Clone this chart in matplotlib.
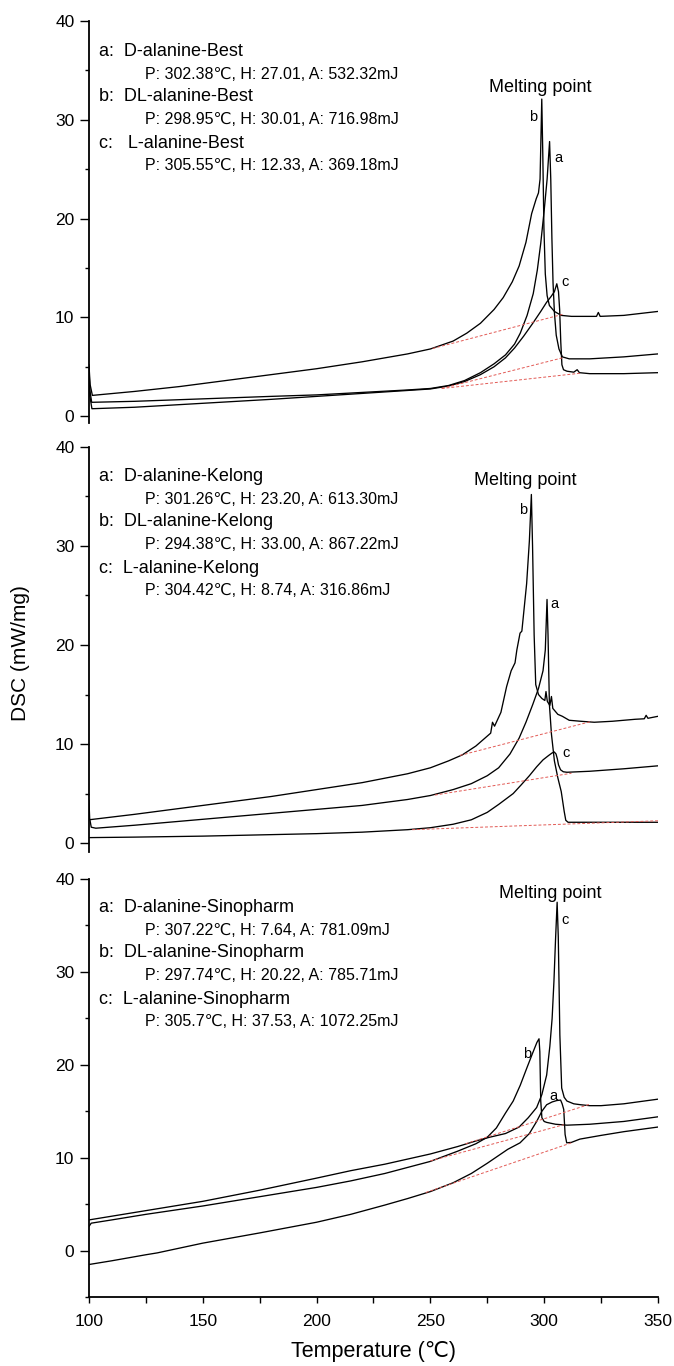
import matplotlib.pyplot as plt
from matplotlib.ticker import MultipleLocator

plt.rcParams['font.family'] = ['Liberation Sans', 'DejaVu Sans']

# ---- Best ----
best_names = ['a:  D-alanine-Best', 'b:  DL-alanine-Best', 'c:   L-alanine-Best']
best_p = ['302.38', '298.95', '305.55']
best_h = ['27.01', '30.01', '12.33']
best_area = ['532.32', '716.98', '369.18']

best_a_t = [100, 100.4, 101.2, 120, 150, 180, 200, 220, 240, 250, 258, 265, 272, 278, 283, 287, 289.5,
            292.5, 295.2, 297, 298.5, 300, 301.3, 302.38, 302.9, 303.4, 303.9, 304.5, 305.3, 306.5, 308,
            311, 320, 335, 350]
best_a_dsc = [5.0, 2.6, 1.4, 1.5, 1.75, 2.0, 2.15, 2.4, 2.65, 2.8, 3.1, 3.6, 4.4, 5.3, 6.2, 7.3, 8.4,
              10.2, 12.4, 14.8, 17.5, 20.8, 24.0, 27.8, 24.0, 18.0, 13.5, 10.5, 8.2, 6.8, 6.0,
              5.8, 5.8, 6.0, 6.3]
best_b_t = [100, 100.5, 101.5, 120, 140, 160, 180, 200, 220, 240, 250, 260, 266, 272, 278, 282, 286,
            289, 292, 294.5, 296.5, 297.5, 298.2, 298.95, 299.4, 299.9, 300.5, 301.3, 302.3, 304.5,
            307.5, 312, 318, 323, 323.8, 324.6, 335, 350]
best_b_dsc = [5.2, 3.2, 2.1, 2.5, 3.0, 3.6, 4.2, 4.8, 5.5, 6.3, 6.8, 7.6, 8.4, 9.4, 10.8, 12.0, 13.6,
              15.2, 17.6, 20.5, 22.0, 22.6, 24.0, 32.1, 26.5, 19.0, 14.4, 12.2, 11.2, 10.6,
              10.2, 10.1, 10.1, 10.1, 10.5, 10.1, 10.2, 10.6]
best_c_t = [100, 100.4, 101.3, 120, 150, 180, 200, 220, 240, 250, 258, 265, 272, 278, 283, 287, 291,
            295, 298.5, 301, 303, 304.5, 305.55, 306.3, 306.8, 307.3, 307.8, 308.5, 310, 313, 314.5,
            315.5, 320, 335, 350]
best_c_dsc = [5.0, 2.0, 0.75, 0.9, 1.3, 1.7, 2.0, 2.3, 2.6, 2.75, 3.05, 3.5, 4.2, 5.0, 5.9, 6.9, 8.1,
              9.4, 10.6, 11.5, 12.1, 12.6, 13.4, 12.6, 10.8, 7.5, 5.2, 4.7, 4.55, 4.45, 4.7,
              4.4, 4.3, 4.3, 4.4]
best_base_t = [[255, 308], [251, 308], [255, 316]]
best_base_dsc = [[2.8, 5.9], [6.85, 10.3], [2.8, 4.35]]

# ---- Kelong ----
kelong_names = ['a:  D-alanine-Kelong', 'b:  DL-alanine-Kelong', 'c:  L-alanine-Kelong']
kelong_p = ['301.26', '294.38', '304.42']
kelong_h = ['23.20', '33.00', '8.74']
kelong_area = ['613.30', '867.22', '316.86']

kelong_a_t = [100, 100.3, 101, 103, 120, 150, 180, 200, 220, 240, 250, 260, 268, 275, 280, 285, 289,
              292, 295, 297.5, 299.5, 300.5, 301.26, 301.7, 302.3, 303.2, 304.5, 306, 307.5, 308.8,
              309.5, 310.5, 320, 335, 350]
kelong_a_dsc = [4.3, 2.5, 1.6, 1.5, 1.8, 2.4, 3.0, 3.4, 3.8, 4.4, 4.8, 5.4, 6.0, 6.8, 7.6, 9.0, 10.6,
                12.2, 14.0, 15.6, 17.4, 19.5, 24.6, 21.0, 14.0, 11.0, 8.3, 6.6, 5.2, 3.2,
                2.3, 2.1, 2.1, 2.1, 2.1]
kelong_b_t = [100, 120, 140, 160, 180, 200, 220, 240, 250, 258, 264, 270, 274, 276.5, 277.3, 278.2,
              281, 283.5, 285.5, 287.2, 288, 289.4, 290.2, 292.3, 293.5, 294.38, 294.9, 295.6, 296.3,
              297.5, 299, 300.3, 300.8, 301.4, 302.5, 303.2, 303.8, 306, 308, 311, 316, 322, 330,
              340, 344, 344.8, 345.6, 350]
kelong_b_dsc = [2.35, 2.9, 3.5, 4.1, 4.7, 5.4, 6.1, 7.0, 7.6, 8.3, 8.9, 9.8, 10.6, 11.1, 12.2, 11.8,
                13.2, 15.8, 17.4, 18.2, 19.5, 21.2, 21.4, 26.2, 30.5, 35.2, 30.0, 21.0, 16.0,
                15.0, 14.6, 14.4, 15.3, 14.3, 13.9, 14.8, 13.6, 13.0, 12.8, 12.4, 12.3, 12.2, 12.3,
                12.5, 12.55, 12.9, 12.6, 12.8]
kelong_c_t = [100, 120, 150, 180, 200, 220, 240, 250, 260, 268, 275, 280, 286.4, 290, 293.5, 296.7,
              299.5, 302, 303.5, 304.42, 305.2, 305.8, 306.3, 307.2, 308.4, 310, 320, 335, 350]
kelong_c_dsc = [0.55, 0.6, 0.7, 0.85, 0.95, 1.1, 1.35, 1.55, 1.9, 2.35, 3.1, 3.9, 5.0, 5.9, 6.8, 7.7,
                8.4, 8.85, 9.1, 9.2, 9.0, 8.5, 7.9, 7.4, 7.2, 7.15, 7.25, 7.5, 7.8]
kelong_base_t = [[252, 312], [263, 321], [242, 350]]
kelong_base_dsc = [[4.85, 7.05], [8.85, 12.3], [1.35, 2.25]]

# ---- Sinopharm ----
sino_names = ['a:  D-alanine-Sinopharm', 'b:  DL-alanine-Sinopharm', 'c:  L-alanine-Sinopharm']
sino_p = ['307.22', '297.74', '305.7']
sino_h = ['7.64', '20.22', '37.53']
sino_area = ['781.09', '785.71', '1072.25']

sino_a_t = [100, 110, 125, 130, 150, 175, 200, 215, 230, 240, 250, 260, 268, 275, 284, 289.4, 293.5,
            296.7, 299, 301.1, 303.5, 305.5, 307.22, 307.9, 308.6, 309.2, 309.9, 312, 315.7, 325, 335,
            350]
sino_a_dsc = [-1.5, -1.1, -0.45, -0.25, 0.8, 1.9, 3.05, 3.9, 4.9, 5.6, 6.35, 7.3, 8.3, 9.4, 10.9, 11.6,
              12.6, 13.9, 15.0, 15.7, 16.0, 16.15, 16.2, 15.8, 15.2, 12.5, 11.6, 11.65, 12.0, 12.4,
              12.8, 13.3]
sino_b_t = [100, 101, 110, 125, 150, 175, 200, 215, 230, 250, 262, 270, 275, 279, 283, 286.4, 289.5,
            292.3, 295, 296.8, 297.74, 298.1, 298.5, 299, 300, 301.1, 305, 310, 320, 335, 350]
sino_b_dsc = [2.6, 2.95, 3.3, 3.9, 4.8, 5.8, 6.8, 7.5, 8.3, 9.6, 10.7, 11.5, 12.2, 13.2, 14.8, 16.1,
              17.8, 19.6, 21.3, 22.4, 22.8, 21.4, 16.1, 14.3, 13.9, 13.8, 13.6, 13.5, 13.6, 13.9,
              14.4]
sino_c_t = [100, 110, 125, 150, 175, 200, 215, 230, 250, 262, 270, 276, 283, 289, 293, 296.7, 299,
            301.1, 302.5, 303.5, 304.3, 305.0, 305.7, 306.2, 306.9, 307.7, 308.8, 310, 313, 316, 320,
            325, 335, 350]
sino_c_dsc = [3.3, 3.7, 4.3, 5.3, 6.5, 7.8, 8.6, 9.3, 10.4, 11.2, 11.8, 12.2, 12.6, 13.3, 14.3, 15.4,
              16.8, 18.9, 22.0, 25.0, 29.0, 33.5, 37.5, 33.8, 23.2, 17.5, 16.5, 16.1, 15.8, 15.7,
              15.6, 15.6, 15.8, 16.3]
sino_base_t = [[248, 312], [250, 308.6], [265.5, 320]]
sino_base_dsc = [[6.25, 11.6], [9.65, 13.55], [11.5, 15.75]]


fig = plt.figure(figsize=(6.74, 13.66), dpi=100)
left, width = 0.132, 0.8442
ax_top = fig.add_axes([left, 0.6903, width, 0.2943])
ax_mid = fig.add_axes([left, 0.3763, width, 0.2965])
ax_bot = fig.add_axes([left, 0.0505, width, 0.3060])

panels = [
    (ax_top, (-0.7, 40), best_names, best_p, best_h, best_area,
     [(best_a_t, best_a_dsc), (best_b_t, best_b_dsc), (best_c_t, best_c_dsc)],
     best_base_t, best_base_dsc, 30),
    (ax_mid, (-0.9, 40), kelong_names, kelong_p, kelong_h, kelong_area,
     [(kelong_a_t, kelong_a_dsc), (kelong_b_t, kelong_b_dsc), (kelong_c_t, kelong_c_dsc)],
     kelong_base_t, kelong_base_dsc, 30),
    (ax_bot, (-5, 40), sino_names, sino_p, sino_h, sino_area,
     [(sino_a_t, sino_a_dsc), (sino_b_t, sino_b_dsc), (sino_c_t, sino_c_dsc)],
     sino_base_t, sino_base_dsc, 28),
]

for ax, ylim, names, p, h, area, curves, base_t, base_dsc, top_off in panels:
    for t, v in curves:
        ax.plot(t, v, color='black', lw=0.95)
    for bt, bv in zip(base_t, base_dsc):
        ax.plot(bt, bv, color='#e25a55', lw=0.7, linestyle=(0, (3, 2)))

    ax.set_xlim(100, 350)
    ax.set_ylim(*ylim)
    ax.yaxis.set_major_locator(MultipleLocator(10))
    ax.yaxis.set_minor_locator(MultipleLocator(5))
    ax.tick_params(axis='y', which='major', direction='out', length=6.5, width=1.0,
                   labelsize=12.5, pad=4)
    ax.tick_params(axis='y', which='minor', direction='out', length=3.2, width=1.0)
    for s in ['top', 'right']:
        ax.spines[s].set_visible(False)
    ax.spines['left'].set_linewidth(1.3)

    # sample legend written as text block
    offsets = [0, 23, 45, 68, 92, 114]
    for i in range(3):
        ax.annotate(names[i], xy=(0, 1), xycoords='axes fraction',
                    xytext=(10, -(top_off + offsets[2 * i])), textcoords='offset pixels',
                    ha='left', va='center', fontsize=13)
        detail = f'P: {p[i]}\u2103, H: {h[i]}, A: {area[i]}mJ'
        ax.annotate(detail, xy=(0, 1), xycoords='axes fraction',
                    xytext=(56, -(top_off + offsets[2 * i + 1])), textcoords='offset pixels',
                    ha='left', va='center', fontsize=11.5)

for ax in (ax_top, ax_mid):
    ax.spines['bottom'].set_visible(False)
    ax.set_xticks([])

ax_bot.spines['bottom'].set_linewidth(1.3)
ax_bot.xaxis.set_major_locator(MultipleLocator(50))
ax_bot.xaxis.set_minor_locator(MultipleLocator(25))
ax_bot.tick_params(axis='x', which='both', direction='out', length=4.5, width=1.0,
                   labelsize=12.5, pad=8)

# peak annotations
ax_top.text(298.2, 33.3, 'Melting point', ha='center', va='center', fontsize=13)
ax_top.text(295.2, 30.3, 'b', ha='center', va='center', fontsize=10.5)
ax_top.text(306.2, 26.1, 'a', ha='center', va='center', fontsize=10.5)
ax_top.text(309.1, 13.6, 'c', ha='center', va='center', fontsize=10.5)

ax_mid.text(291.8, 36.6, 'Melting point', ha='center', va='center', fontsize=13)
ax_mid.text(290.8, 33.6, 'b', ha='center', va='center', fontsize=10.5)
ax_mid.text(304.7, 24.1, 'a', ha='center', va='center', fontsize=10.5)
ax_mid.text(309.6, 9.1, 'c', ha='center', va='center', fontsize=10.5)

ax_bot.text(302.5, 38.4, 'Melting point', ha='center', va='center', fontsize=13)
ax_bot.text(309.1, 35.6, 'c', ha='center', va='center', fontsize=10.5)
ax_bot.text(292.3, 21.2, 'b', ha='center', va='center', fontsize=10.5)
ax_bot.text(304.0, 16.6, 'a', ha='center', va='center', fontsize=10.5)

fig.text(0.031, 0.522, 'DSC (mW/mg)', rotation=90, ha='center', va='center', fontsize=15)
fig.text(0.554, 0.0105, 'Temperature (\u2103)', ha='center', va='center', fontsize=15.5)

fig.savefig('out.png', dpi=100)
